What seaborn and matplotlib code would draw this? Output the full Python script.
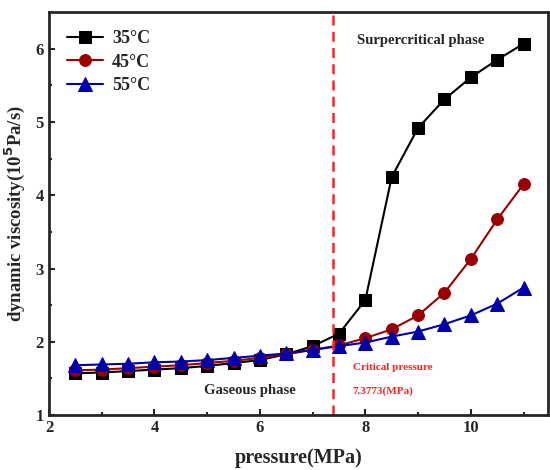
import pandas as pd
import seaborn as sns
import matplotlib
matplotlib.use("Agg")
import matplotlib.pyplot as plt
from matplotlib.ticker import MultipleLocator

sns.set_style("ticks")
plt.rcParams["font.family"] = ["Liberation Serif", "DejaVu Serif"]
plt.rcParams["font.weight"] = "bold"

pressure = [2.5, 3, 3.5, 4, 4.5, 5, 5.5, 6, 6.5, 7, 7.5, 8, 8.5, 9, 9.5, 10, 10.5, 11]
visc_35 = [1.57, 1.58, 1.60, 1.62, 1.64, 1.67, 1.71, 1.75, 1.83, 1.94, 2.11, 2.57, 4.25, 4.92, 5.31, 5.61, 5.85, 6.07]
visc_45 = [1.61, 1.62, 1.64, 1.66, 1.68, 1.71, 1.74, 1.78, 1.83, 1.89, 1.95, 2.05, 2.17, 2.36, 2.67, 3.13, 3.67, 4.15]
visc_55 = [1.68, 1.69, 1.70, 1.72, 1.73, 1.75, 1.78, 1.81, 1.84, 1.89, 1.94, 1.99, 2.07, 2.14, 2.24, 2.36, 2.52, 2.74]
labels = ["35°C", "45°C", "55°C"]
critical_p = 7.3773


def main():
    fig = plt.figure(figsize=(5.5, 4.7), dpi=100)
    ax = fig.add_axes([0.089, 0.117, 0.907, 0.857])

    series = [visc_35, visc_45, visc_55]
    colors = ["black", "#990000", "#0000a8"]
    markers = ["s", "o", "^"]
    sizes = [8, 8.5, 9.5]
    for vals, lab, col, mk, ms in zip(series, labels, colors, markers, sizes):
        df = pd.DataFrame({"pressure": pressure, "visc": vals})
        sns.lineplot(data=df, x="pressure", y="visc", ax=ax, color=col,
                     marker=mk, markersize=ms, markeredgecolor=col,
                     linewidth=1.5, label=lab)

    ax.axvline(critical_p, color="#ff2222", linestyle=(0, (4, 2.5)), linewidth=1.8)

    ax.text(9.05, 6.12, "Surpercritical phase", ha="center", va="center",
            fontsize=10.5, fontweight="bold")
    ax.text(5.81, 1.33, "Gaseous phase", ha="center", va="center",
            fontsize=10.5, fontweight="bold")
    ax.text(7.76, 1.65, "Critical pressure", ha="left", va="center",
            fontsize=8, fontweight="bold", color="#ff2222")
    ax.text(7.76, 1.33, "7.3773(MPa)", ha="left", va="center",
            fontsize=8, fontweight="bold", color="#ff2222")

    ax.set_xlim(2, 11.46)
    ax.set_ylim(1, 6.5)
    ax.xaxis.set_major_locator(MultipleLocator(2))
    ax.xaxis.set_minor_locator(MultipleLocator(1))
    ax.yaxis.set_major_locator(MultipleLocator(1))
    ax.yaxis.set_minor_locator(MultipleLocator(0.5))
    ax.tick_params(which="both", direction="in", width=1.5, labelsize=12)
    ax.tick_params(which="major", length=4)
    ax.tick_params(which="minor", length=2.5)
    for lab in ax.get_xticklabels() + ax.get_yticklabels():
        lab.set_fontweight("bold")
    for sp in ax.spines.values():
        sp.set_linewidth(2)

    ax.set_xlabel("pressure(MPa)", fontsize=14.5, fontweight="bold", labelpad=9)
    ax.set_ylabel("dynamic viscosity(10$^\\mathbf{5}$Pa/s)", fontsize=13.5,
                  fontweight="bold", labelpad=6)

    ax.legend(loc="upper left", frameon=False, handlelength=2.0,
              handletextpad=0.5, labelspacing=0.35, borderaxespad=0.6,
              prop={"weight": "bold", "size": 13})

    fig.savefig("out.png", dpi=100)


if __name__ == "__main__":
    main()
